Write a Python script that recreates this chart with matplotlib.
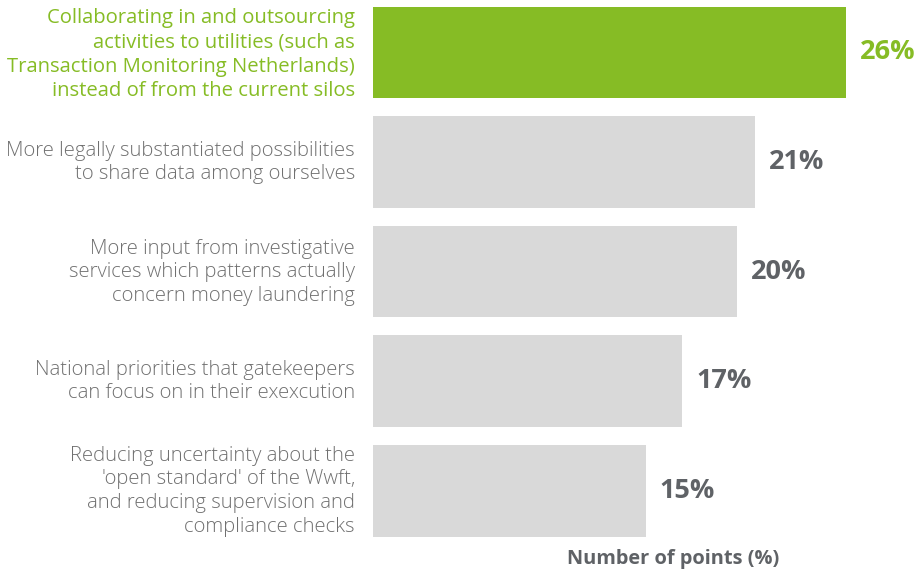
import matplotlib.pyplot as plt

# survey answers, top to bottom
labels = [
    "Collaborating in and outsourcing\nactivities to utilities (such as\nTransaction Monitoring Netherlands)\ninstead of from the current silos",
    "More legally substantiated possibilities\nto share data among ourselves",
    "More input from investigative\nservices which patterns actually\nconcern money laundering",
    "National priorities that gatekeepers\ncan focus on in their exexcution",
    "Reducing uncertainty about the\n'open standard' of the Wwft,\nand reducing supervision and\ncompliance checks",
]
values = [26, 21, 20, 17, 15]

green = "#86BC25"
grey_bar = "#D9D9D9"
grey_text = "#707070"
dark_text = "#5F6266"

plt.rcParams['font.family'] = ['Open Sans', 'DejaVu Sans']

fig = plt.figure(figsize=(9.15, 5.73), dpi=100)
ax = fig.add_axes([373 / 915, 36.5 / 573, 542 / 915, 530 / 573])

pos = list(range(len(values)))
colors = [green] + [grey_bar] * (len(values) - 1)
ax.barh(pos, values, height=0.84, color=colors)
ax.set_ylim(len(values) - 0.58, -0.42)
ax.set_xlim(0, 29.8)

for i, v in enumerate(values):
    c = green if i == 0 else dark_text
    ax.annotate(f"{v}%", (v, i), xytext=(10, 0), textcoords="offset points",
                ha="left", va="center", fontsize=19.5, fontweight="bold", color=c)
    # highlighted answer is set in regular weight, the rest in light
    ax.annotate(labels[i], (0, i), xytext=(-13, -1.5 if i == 0 else -0.5),
                textcoords="offset points",
                ha="right", va="center", fontsize=14.6,
                fontweight="normal" if i == 0 else "light",
                color=green if i == 0 else grey_text,
                linespacing=1.3 if i == 0 else 1.24)

ax.axis("off")
fig.text(673 / 915, 1 - 559 / 573, "Number of points (%)", ha="center", va="center",
         fontsize=14.4, fontweight="bold", color=dark_text)

fig.savefig("out.png", dpi=100)
